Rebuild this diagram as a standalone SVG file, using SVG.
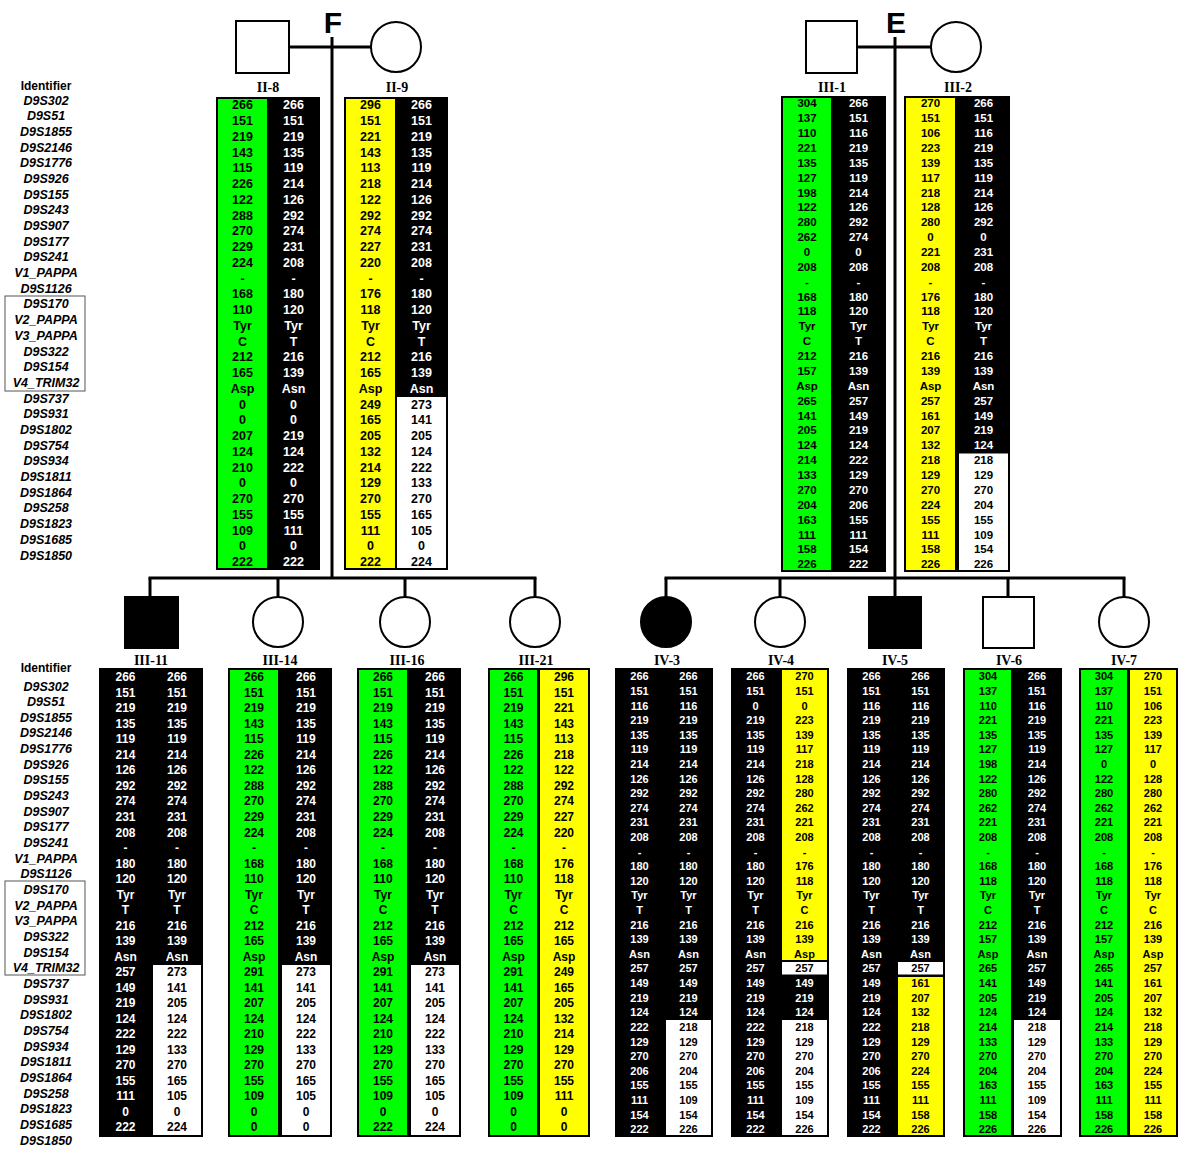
<svg xmlns="http://www.w3.org/2000/svg" width="1183" height="1156" viewBox="0 0 1183 1156">
<style>
.bg{fill:#fff}
.ln{stroke:#000;stroke-width:3;fill:none}
.sym{stroke:#000;stroke-width:2;fill:#fff}
.aff{stroke:#000;stroke-width:2;fill:#000}
.fam{font:bold 30px "Liberation Sans",Arial,sans-serif;text-anchor:middle;fill:#000}
.id{font:bold 14px "Liberation Serif","Times New Roman",serif;text-anchor:middle;fill:#000}
.mk{font:italic bold 12.5px "Liberation Sans",Arial,sans-serif;text-anchor:middle;fill:#000}
.hd{font:bold 12px "Liberation Sans",Arial,sans-serif;text-anchor:middle;fill:#000}
.lbox{fill:none;stroke:#555;stroke-width:1}
.box{fill:#000}
.gr{fill:#00ff00}
.ye{fill:#ffff00}
.wh{fill:#fff}
.c{font-family:"Liberation Sans",Arial,sans-serif;font-weight:bold;text-anchor:middle}
.s1{font-size:12.5px}.s2{font-size:11.5px}.s3{font-size:12px}.s4{font-size:11px}
.w{fill:#fff}.k{fill:#000}
</style>
<rect class="bg" x="0" y="0" width="1183" height="1156"/>

<!-- connectors: marriage, descent and sibship lines -->
<g id="connectors">
  <line class="ln" x1="290" y1="47" x2="371" y2="47" stroke-width="2"/>
  <line class="ln" x1="332" y1="37" x2="332" y2="579"/>
  <line class="ln" x1="148.5" y1="578" x2="536.5" y2="578"/>
  <line class="ln" x1="150" y1="578" x2="150" y2="597"/>
  <line class="ln" x1="278" y1="578" x2="278" y2="597"/>
  <line class="ln" x1="405" y1="578" x2="405" y2="597"/>
  <line class="ln" x1="535" y1="578" x2="535" y2="597"/>
  <line class="ln" x1="857" y1="47" x2="931" y2="47" stroke-width="2"/>
  <line class="ln" x1="895" y1="37" x2="895" y2="597"/>
  <line class="ln" x1="664.5" y1="578" x2="1125.5" y2="578"/>
  <line class="ln" x1="666" y1="578" x2="666" y2="597"/>
  <line class="ln" x1="780" y1="578" x2="780" y2="597"/>
  <line class="ln" x1="1008" y1="578" x2="1008" y2="597"/>
  <line class="ln" x1="1124" y1="578" x2="1124" y2="597"/>
</g>

<!-- family letters -->
<text class="fam" x="333" y="33">F</text>
<text class="fam" x="896" y="33">E</text>

<!-- marker names -->
<g id="markers-top">
  <text class="hd" x="46" y="90">Identifier</text>
  <rect class="lbox" x="5" y="296" width="80" height="95"/>
  <text class="mk" y="104.5"><tspan x="46">D9S302</tspan><tspan x="46" dy="15.69">D9S51</tspan><tspan x="46" dy="15.69">D9S1855</tspan><tspan x="46" dy="15.69">D9S2146</tspan><tspan x="46" dy="15.69">D9S1776</tspan><tspan x="46" dy="15.69">D9S926</tspan><tspan x="46" dy="15.69">D9S155</tspan><tspan x="46" dy="15.69">D9S243</tspan><tspan x="46" dy="15.69">D9S907</tspan><tspan x="46" dy="15.69">D9S177</tspan><tspan x="46" dy="15.69">D9S241</tspan><tspan x="46" dy="15.69">V1_PAPPA</tspan><tspan x="46" dy="15.69">D9S1126</tspan><tspan x="46" dy="15.69">D9S170</tspan><tspan x="46" dy="15.69">V2_PAPPA</tspan><tspan x="46" dy="15.69">V3_PAPPA</tspan><tspan x="46" dy="15.69">D9S322</tspan><tspan x="46" dy="15.69">D9S154</tspan><tspan x="46" dy="15.69">V4_TRIM32</tspan><tspan x="46" dy="15.69">D9S737</tspan><tspan x="46" dy="15.69">D9S931</tspan><tspan x="46" dy="15.69">D9S1802</tspan><tspan x="46" dy="15.69">D9S754</tspan><tspan x="46" dy="15.69">D9S934</tspan><tspan x="46" dy="15.69">D9S1811</tspan><tspan x="46" dy="15.69">D9S1864</tspan><tspan x="46" dy="15.69">D9S258</tspan><tspan x="46" dy="15.69">D9S1823</tspan><tspan x="46" dy="15.69">D9S1685</tspan><tspan x="46" dy="15.69">D9S1850</tspan></text>
</g>
<g id="markers-bottom">
  <text class="hd" x="46" y="672">Identifier</text>
  <rect class="lbox" x="5" y="881" width="80" height="94"/>
  <text class="mk" y="690.5"><tspan x="46">D9S302</tspan><tspan x="46" dy="15.66">D9S51</tspan><tspan x="46" dy="15.66">D9S1855</tspan><tspan x="46" dy="15.66">D9S2146</tspan><tspan x="46" dy="15.66">D9S1776</tspan><tspan x="46" dy="15.66">D9S926</tspan><tspan x="46" dy="15.66">D9S155</tspan><tspan x="46" dy="15.66">D9S243</tspan><tspan x="46" dy="15.66">D9S907</tspan><tspan x="46" dy="15.66">D9S177</tspan><tspan x="46" dy="15.66">D9S241</tspan><tspan x="46" dy="15.66">V1_PAPPA</tspan><tspan x="46" dy="15.66">D9S1126</tspan><tspan x="46" dy="15.66">D9S170</tspan><tspan x="46" dy="15.66">V2_PAPPA</tspan><tspan x="46" dy="15.66">V3_PAPPA</tspan><tspan x="46" dy="15.66">D9S322</tspan><tspan x="46" dy="15.66">D9S154</tspan><tspan x="46" dy="15.66">V4_TRIM32</tspan><tspan x="46" dy="15.66">D9S737</tspan><tspan x="46" dy="15.66">D9S931</tspan><tspan x="46" dy="15.66">D9S1802</tspan><tspan x="46" dy="15.66">D9S754</tspan><tspan x="46" dy="15.66">D9S934</tspan><tspan x="46" dy="15.66">D9S1811</tspan><tspan x="46" dy="15.66">D9S1864</tspan><tspan x="46" dy="15.66">D9S258</tspan><tspan x="46" dy="15.66">D9S1823</tspan><tspan x="46" dy="15.66">D9S1685</tspan><tspan x="46" dy="15.66">D9S1850</tspan></text>
</g>

<!-- family F, generation II -->
<g id="II-8">
  <rect class="sym" x="236" y="21" width="53" height="52"/>
  <text class="id" x="268" y="92">II-8</text>
  <rect class="box" x="216" y="97" width="104" height="473"/>
  <rect class="gr" x="218" y="99" width="49" height="469"/>
  <text class="c s1 k" y="109.3"><tspan x="242.5">266</tspan><tspan x="242.5" dy="15.75">151</tspan><tspan x="242.5" dy="15.75">219</tspan><tspan x="242.5" dy="15.75">143</tspan><tspan x="242.5" dy="15.75">115</tspan><tspan x="242.5" dy="15.75">226</tspan><tspan x="242.5" dy="15.75">122</tspan><tspan x="242.5" dy="15.75">288</tspan><tspan x="242.5" dy="15.75">270</tspan><tspan x="242.5" dy="15.75">229</tspan><tspan x="242.5" dy="15.75">224</tspan><tspan x="242.5" dy="15.75">-</tspan><tspan x="242.5" dy="15.75">168</tspan><tspan x="242.5" dy="15.75">110</tspan><tspan x="242.5" dy="15.75">Tyr</tspan><tspan x="242.5" dy="15.75">C</tspan><tspan x="242.5" dy="15.75">212</tspan><tspan x="242.5" dy="15.75">165</tspan><tspan x="242.5" dy="15.75">Asp</tspan><tspan x="242.5" dy="15.75">0</tspan><tspan x="242.5" dy="15.75">0</tspan><tspan x="242.5" dy="15.75">207</tspan><tspan x="242.5" dy="15.75">124</tspan><tspan x="242.5" dy="15.75">210</tspan><tspan x="242.5" dy="15.75">0</tspan><tspan x="242.5" dy="15.75">270</tspan><tspan x="242.5" dy="15.75">155</tspan><tspan x="242.5" dy="15.75">109</tspan><tspan x="242.5" dy="15.75">0</tspan><tspan x="242.5" dy="15.75">222</tspan></text>
  <text class="c s1 w" y="109.3"><tspan x="293.5">266</tspan><tspan x="293.5" dy="15.75">151</tspan><tspan x="293.5" dy="15.75">219</tspan><tspan x="293.5" dy="15.75">135</tspan><tspan x="293.5" dy="15.75">119</tspan><tspan x="293.5" dy="15.75">214</tspan><tspan x="293.5" dy="15.75">126</tspan><tspan x="293.5" dy="15.75">292</tspan><tspan x="293.5" dy="15.75">274</tspan><tspan x="293.5" dy="15.75">231</tspan><tspan x="293.5" dy="15.75">208</tspan><tspan x="293.5" dy="15.75">-</tspan><tspan x="293.5" dy="15.75">180</tspan><tspan x="293.5" dy="15.75">120</tspan><tspan x="293.5" dy="15.75">Tyr</tspan><tspan x="293.5" dy="15.75">T</tspan><tspan x="293.5" dy="15.75">216</tspan><tspan x="293.5" dy="15.75">139</tspan><tspan x="293.5" dy="15.75">Asn</tspan><tspan x="293.5" dy="15.75">0</tspan><tspan x="293.5" dy="15.75">0</tspan><tspan x="293.5" dy="15.75">219</tspan><tspan x="293.5" dy="15.75">124</tspan><tspan x="293.5" dy="15.75">222</tspan><tspan x="293.5" dy="15.75">0</tspan><tspan x="293.5" dy="15.75">270</tspan><tspan x="293.5" dy="15.75">155</tspan><tspan x="293.5" dy="15.75">111</tspan><tspan x="293.5" dy="15.75">0</tspan><tspan x="293.5" dy="15.75">222</tspan></text>
</g>
<g id="II-9">
  <circle class="sym" cx="396" cy="47" r="25"/>
  <text class="id" x="397" y="92">II-9</text>
  <rect class="box" x="344" y="97" width="104" height="473"/>
  <rect class="ye" x="346" y="99" width="49" height="469"/>
  <rect class="wh" x="397" y="397" width="49" height="171"/>
  <text class="c s1 k" y="109.3"><tspan x="370.5">296</tspan><tspan x="370.5" dy="15.75">151</tspan><tspan x="370.5" dy="15.75">221</tspan><tspan x="370.5" dy="15.75">143</tspan><tspan x="370.5" dy="15.75">113</tspan><tspan x="370.5" dy="15.75">218</tspan><tspan x="370.5" dy="15.75">122</tspan><tspan x="370.5" dy="15.75">292</tspan><tspan x="370.5" dy="15.75">274</tspan><tspan x="370.5" dy="15.75">227</tspan><tspan x="370.5" dy="15.75">220</tspan><tspan x="370.5" dy="15.75">-</tspan><tspan x="370.5" dy="15.75">176</tspan><tspan x="370.5" dy="15.75">118</tspan><tspan x="370.5" dy="15.75">Tyr</tspan><tspan x="370.5" dy="15.75">C</tspan><tspan x="370.5" dy="15.75">212</tspan><tspan x="370.5" dy="15.75">165</tspan><tspan x="370.5" dy="15.75">Asp</tspan><tspan x="370.5" dy="15.75">249</tspan><tspan x="370.5" dy="15.75">165</tspan><tspan x="370.5" dy="15.75">205</tspan><tspan x="370.5" dy="15.75">132</tspan><tspan x="370.5" dy="15.75">214</tspan><tspan x="370.5" dy="15.75">129</tspan><tspan x="370.5" dy="15.75">270</tspan><tspan x="370.5" dy="15.75">155</tspan><tspan x="370.5" dy="15.75">111</tspan><tspan x="370.5" dy="15.75">0</tspan><tspan x="370.5" dy="15.75">222</tspan></text>
  <text class="c s1 w" y="109.3"><tspan x="421.5">266</tspan><tspan x="421.5" dy="15.75">151</tspan><tspan x="421.5" dy="15.75">219</tspan><tspan x="421.5" dy="15.75">135</tspan><tspan x="421.5" dy="15.75">119</tspan><tspan x="421.5" dy="15.75">214</tspan><tspan x="421.5" dy="15.75">126</tspan><tspan x="421.5" dy="15.75">292</tspan><tspan x="421.5" dy="15.75">274</tspan><tspan x="421.5" dy="15.75">231</tspan><tspan x="421.5" dy="15.75">208</tspan><tspan x="421.5" dy="15.75">-</tspan><tspan x="421.5" dy="15.75">180</tspan><tspan x="421.5" dy="15.75">120</tspan><tspan x="421.5" dy="15.75">Tyr</tspan><tspan x="421.5" dy="15.75">T</tspan><tspan x="421.5" dy="15.75">216</tspan><tspan x="421.5" dy="15.75">139</tspan><tspan x="421.5" dy="15.75">Asn</tspan><tspan class="k" x="421.5" dy="15.75">273</tspan><tspan class="k" x="421.5" dy="15.75">141</tspan><tspan class="k" x="421.5" dy="15.75">205</tspan><tspan class="k" x="421.5" dy="15.75">124</tspan><tspan class="k" x="421.5" dy="15.75">222</tspan><tspan class="k" x="421.5" dy="15.75">133</tspan><tspan class="k" x="421.5" dy="15.75">270</tspan><tspan class="k" x="421.5" dy="15.75">165</tspan><tspan class="k" x="421.5" dy="15.75">105</tspan><tspan class="k" x="421.5" dy="15.75">0</tspan><tspan class="k" x="421.5" dy="15.75">224</tspan></text>
</g>

<!-- family E, generation III -->
<g id="III-1">
  <rect class="sym" x="806" y="21" width="51" height="52"/>
  <text class="id" x="832" y="92">III-1</text>
  <rect class="box" x="781" y="96" width="105" height="476"/>
  <rect class="gr" x="783" y="98" width="48" height="472"/>
  <text class="c s2 k" y="107.3"><tspan x="807">304</tspan><tspan x="807" dy="14.87">137</tspan><tspan x="807" dy="14.87">110</tspan><tspan x="807" dy="14.87">221</tspan><tspan x="807" dy="14.87">135</tspan><tspan x="807" dy="14.87">127</tspan><tspan x="807" dy="14.87">198</tspan><tspan x="807" dy="14.87">122</tspan><tspan x="807" dy="14.87">280</tspan><tspan x="807" dy="14.87">262</tspan><tspan x="807" dy="14.87">0</tspan><tspan x="807" dy="14.87">208</tspan><tspan x="807" dy="14.87">-</tspan><tspan x="807" dy="14.87">168</tspan><tspan x="807" dy="14.87">118</tspan><tspan x="807" dy="14.87">Tyr</tspan><tspan x="807" dy="14.87">C</tspan><tspan x="807" dy="14.87">212</tspan><tspan x="807" dy="14.87">157</tspan><tspan x="807" dy="14.87">Asp</tspan><tspan x="807" dy="14.87">265</tspan><tspan x="807" dy="14.87">141</tspan><tspan x="807" dy="14.87">205</tspan><tspan x="807" dy="14.87">124</tspan><tspan x="807" dy="14.87">214</tspan><tspan x="807" dy="14.87">133</tspan><tspan x="807" dy="14.87">270</tspan><tspan x="807" dy="14.87">204</tspan><tspan x="807" dy="14.87">163</tspan><tspan x="807" dy="14.87">111</tspan><tspan x="807" dy="14.87">158</tspan><tspan x="807" dy="14.87">226</tspan></text>
  <text class="c s2 w" y="107.3"><tspan x="858.5">266</tspan><tspan x="858.5" dy="14.87">151</tspan><tspan x="858.5" dy="14.87">116</tspan><tspan x="858.5" dy="14.87">219</tspan><tspan x="858.5" dy="14.87">135</tspan><tspan x="858.5" dy="14.87">119</tspan><tspan x="858.5" dy="14.87">214</tspan><tspan x="858.5" dy="14.87">126</tspan><tspan x="858.5" dy="14.87">292</tspan><tspan x="858.5" dy="14.87">274</tspan><tspan x="858.5" dy="14.87">0</tspan><tspan x="858.5" dy="14.87">208</tspan><tspan x="858.5" dy="14.87">-</tspan><tspan x="858.5" dy="14.87">180</tspan><tspan x="858.5" dy="14.87">120</tspan><tspan x="858.5" dy="14.87">Tyr</tspan><tspan x="858.5" dy="14.87">T</tspan><tspan x="858.5" dy="14.87">216</tspan><tspan x="858.5" dy="14.87">139</tspan><tspan x="858.5" dy="14.87">Asn</tspan><tspan x="858.5" dy="14.87">257</tspan><tspan x="858.5" dy="14.87">149</tspan><tspan x="858.5" dy="14.87">219</tspan><tspan x="858.5" dy="14.87">124</tspan><tspan x="858.5" dy="14.87">222</tspan><tspan x="858.5" dy="14.87">129</tspan><tspan x="858.5" dy="14.87">270</tspan><tspan x="858.5" dy="14.87">206</tspan><tspan x="858.5" dy="14.87">155</tspan><tspan x="858.5" dy="14.87">111</tspan><tspan x="858.5" dy="14.87">154</tspan><tspan x="858.5" dy="14.87">222</tspan></text>
</g>
<g id="III-2">
  <circle class="sym" cx="956" cy="47" r="25"/>
  <text class="id" x="958" y="92">III-2</text>
  <rect class="box" x="904" y="96" width="106" height="476"/>
  <rect class="ye" x="906" y="98" width="49" height="472"/>
  <rect class="wh" x="959" y="453.5" width="49" height="116.5"/>
  <text class="c s2 k" y="107.3"><tspan x="930.5">270</tspan><tspan x="930.5" dy="14.87">151</tspan><tspan x="930.5" dy="14.87">106</tspan><tspan x="930.5" dy="14.87">223</tspan><tspan x="930.5" dy="14.87">139</tspan><tspan x="930.5" dy="14.87">117</tspan><tspan x="930.5" dy="14.87">218</tspan><tspan x="930.5" dy="14.87">128</tspan><tspan x="930.5" dy="14.87">280</tspan><tspan x="930.5" dy="14.87">0</tspan><tspan x="930.5" dy="14.87">221</tspan><tspan x="930.5" dy="14.87">208</tspan><tspan x="930.5" dy="14.87">-</tspan><tspan x="930.5" dy="14.87">176</tspan><tspan x="930.5" dy="14.87">118</tspan><tspan x="930.5" dy="14.87">Tyr</tspan><tspan x="930.5" dy="14.87">C</tspan><tspan x="930.5" dy="14.87">216</tspan><tspan x="930.5" dy="14.87">139</tspan><tspan x="930.5" dy="14.87">Asp</tspan><tspan x="930.5" dy="14.87">257</tspan><tspan x="930.5" dy="14.87">161</tspan><tspan x="930.5" dy="14.87">207</tspan><tspan x="930.5" dy="14.87">132</tspan><tspan x="930.5" dy="14.87">218</tspan><tspan x="930.5" dy="14.87">129</tspan><tspan x="930.5" dy="14.87">270</tspan><tspan x="930.5" dy="14.87">224</tspan><tspan x="930.5" dy="14.87">155</tspan><tspan x="930.5" dy="14.87">111</tspan><tspan x="930.5" dy="14.87">158</tspan><tspan x="930.5" dy="14.87">226</tspan></text>
  <text class="c s2 w" y="107.3"><tspan x="983.5">266</tspan><tspan x="983.5" dy="14.87">151</tspan><tspan x="983.5" dy="14.87">116</tspan><tspan x="983.5" dy="14.87">219</tspan><tspan x="983.5" dy="14.87">135</tspan><tspan x="983.5" dy="14.87">119</tspan><tspan x="983.5" dy="14.87">214</tspan><tspan x="983.5" dy="14.87">126</tspan><tspan x="983.5" dy="14.87">292</tspan><tspan x="983.5" dy="14.87">0</tspan><tspan x="983.5" dy="14.87">231</tspan><tspan x="983.5" dy="14.87">208</tspan><tspan x="983.5" dy="14.87">-</tspan><tspan x="983.5" dy="14.87">180</tspan><tspan x="983.5" dy="14.87">120</tspan><tspan x="983.5" dy="14.87">Tyr</tspan><tspan x="983.5" dy="14.87">T</tspan><tspan x="983.5" dy="14.87">216</tspan><tspan x="983.5" dy="14.87">139</tspan><tspan x="983.5" dy="14.87">Asn</tspan><tspan x="983.5" dy="14.87">257</tspan><tspan x="983.5" dy="14.87">149</tspan><tspan x="983.5" dy="14.87">219</tspan><tspan x="983.5" dy="14.87">124</tspan><tspan class="k" x="983.5" dy="14.87">218</tspan><tspan class="k" x="983.5" dy="14.87">129</tspan><tspan class="k" x="983.5" dy="14.87">270</tspan><tspan class="k" x="983.5" dy="14.87">204</tspan><tspan class="k" x="983.5" dy="14.87">155</tspan><tspan class="k" x="983.5" dy="14.87">109</tspan><tspan class="k" x="983.5" dy="14.87">154</tspan><tspan class="k" x="983.5" dy="14.87">226</tspan></text>
</g>

<!-- family F, generation III -->
<g id="III-11">
  <rect class="aff" x="125" y="597" width="53" height="51"/>
  <text class="id" x="151" y="665">III-11</text>
  <rect class="box" x="99" y="668" width="104" height="469"/>
  <rect class="wh" x="153" y="965" width="48" height="170"/>
  <text class="c s3 w" y="681.3"><tspan x="125.5">266</tspan><tspan x="125.5" dy="15.52">151</tspan><tspan x="125.5" dy="15.52">219</tspan><tspan x="125.5" dy="15.52">135</tspan><tspan x="125.5" dy="15.52">119</tspan><tspan x="125.5" dy="15.52">214</tspan><tspan x="125.5" dy="15.52">126</tspan><tspan x="125.5" dy="15.52">292</tspan><tspan x="125.5" dy="15.52">274</tspan><tspan x="125.5" dy="15.52">231</tspan><tspan x="125.5" dy="15.52">208</tspan><tspan x="125.5" dy="15.52">-</tspan><tspan x="125.5" dy="15.52">180</tspan><tspan x="125.5" dy="15.52">120</tspan><tspan x="125.5" dy="15.52">Tyr</tspan><tspan x="125.5" dy="15.52">T</tspan><tspan x="125.5" dy="15.52">216</tspan><tspan x="125.5" dy="15.52">139</tspan><tspan x="125.5" dy="15.52">Asn</tspan><tspan x="125.5" dy="15.52">257</tspan><tspan x="125.5" dy="15.52">149</tspan><tspan x="125.5" dy="15.52">219</tspan><tspan x="125.5" dy="15.52">124</tspan><tspan x="125.5" dy="15.52">222</tspan><tspan x="125.5" dy="15.52">129</tspan><tspan x="125.5" dy="15.52">270</tspan><tspan x="125.5" dy="15.52">155</tspan><tspan x="125.5" dy="15.52">111</tspan><tspan x="125.5" dy="15.52">0</tspan><tspan x="125.5" dy="15.52">222</tspan></text>
  <text class="c s3 w" y="681.3"><tspan x="177">266</tspan><tspan x="177" dy="15.52">151</tspan><tspan x="177" dy="15.52">219</tspan><tspan x="177" dy="15.52">135</tspan><tspan x="177" dy="15.52">119</tspan><tspan x="177" dy="15.52">214</tspan><tspan x="177" dy="15.52">126</tspan><tspan x="177" dy="15.52">292</tspan><tspan x="177" dy="15.52">274</tspan><tspan x="177" dy="15.52">231</tspan><tspan x="177" dy="15.52">208</tspan><tspan x="177" dy="15.52">-</tspan><tspan x="177" dy="15.52">180</tspan><tspan x="177" dy="15.52">120</tspan><tspan x="177" dy="15.52">Tyr</tspan><tspan x="177" dy="15.52">T</tspan><tspan x="177" dy="15.52">216</tspan><tspan x="177" dy="15.52">139</tspan><tspan x="177" dy="15.52">Asn</tspan><tspan class="k" x="177" dy="15.52">273</tspan><tspan class="k" x="177" dy="15.52">141</tspan><tspan class="k" x="177" dy="15.52">205</tspan><tspan class="k" x="177" dy="15.52">124</tspan><tspan class="k" x="177" dy="15.52">222</tspan><tspan class="k" x="177" dy="15.52">133</tspan><tspan class="k" x="177" dy="15.52">270</tspan><tspan class="k" x="177" dy="15.52">165</tspan><tspan class="k" x="177" dy="15.52">105</tspan><tspan class="k" x="177" dy="15.52">0</tspan><tspan class="k" x="177" dy="15.52">224</tspan></text>
</g>
<g id="III-14">
  <circle class="sym" cx="278" cy="622" r="25"/>
  <text class="id" x="280" y="665">III-14</text>
  <rect class="box" x="228" y="668" width="104" height="469"/>
  <rect class="gr" x="230" y="670" width="48" height="465"/>
  <rect class="wh" x="282" y="965" width="48" height="170"/>
  <text class="c s3 k" y="681.3"><tspan x="254">266</tspan><tspan x="254" dy="15.52">151</tspan><tspan x="254" dy="15.52">219</tspan><tspan x="254" dy="15.52">143</tspan><tspan x="254" dy="15.52">115</tspan><tspan x="254" dy="15.52">226</tspan><tspan x="254" dy="15.52">122</tspan><tspan x="254" dy="15.52">288</tspan><tspan x="254" dy="15.52">270</tspan><tspan x="254" dy="15.52">229</tspan><tspan x="254" dy="15.52">224</tspan><tspan x="254" dy="15.52">-</tspan><tspan x="254" dy="15.52">168</tspan><tspan x="254" dy="15.52">110</tspan><tspan x="254" dy="15.52">Tyr</tspan><tspan x="254" dy="15.52">C</tspan><tspan x="254" dy="15.52">212</tspan><tspan x="254" dy="15.52">165</tspan><tspan x="254" dy="15.52">Asp</tspan><tspan x="254" dy="15.52">291</tspan><tspan x="254" dy="15.52">141</tspan><tspan x="254" dy="15.52">207</tspan><tspan x="254" dy="15.52">124</tspan><tspan x="254" dy="15.52">210</tspan><tspan x="254" dy="15.52">129</tspan><tspan x="254" dy="15.52">270</tspan><tspan x="254" dy="15.52">155</tspan><tspan x="254" dy="15.52">109</tspan><tspan x="254" dy="15.52">0</tspan><tspan x="254" dy="15.52">0</tspan></text>
  <text class="c s3 w" y="681.3"><tspan x="306">266</tspan><tspan x="306" dy="15.52">151</tspan><tspan x="306" dy="15.52">219</tspan><tspan x="306" dy="15.52">135</tspan><tspan x="306" dy="15.52">119</tspan><tspan x="306" dy="15.52">214</tspan><tspan x="306" dy="15.52">126</tspan><tspan x="306" dy="15.52">292</tspan><tspan x="306" dy="15.52">274</tspan><tspan x="306" dy="15.52">231</tspan><tspan x="306" dy="15.52">208</tspan><tspan x="306" dy="15.52">-</tspan><tspan x="306" dy="15.52">180</tspan><tspan x="306" dy="15.52">120</tspan><tspan x="306" dy="15.52">Tyr</tspan><tspan x="306" dy="15.52">T</tspan><tspan x="306" dy="15.52">216</tspan><tspan x="306" dy="15.52">139</tspan><tspan x="306" dy="15.52">Asn</tspan><tspan class="k" x="306" dy="15.52">273</tspan><tspan class="k" x="306" dy="15.52">141</tspan><tspan class="k" x="306" dy="15.52">205</tspan><tspan class="k" x="306" dy="15.52">124</tspan><tspan class="k" x="306" dy="15.52">222</tspan><tspan class="k" x="306" dy="15.52">133</tspan><tspan class="k" x="306" dy="15.52">270</tspan><tspan class="k" x="306" dy="15.52">165</tspan><tspan class="k" x="306" dy="15.52">105</tspan><tspan class="k" x="306" dy="15.52">0</tspan><tspan class="k" x="306" dy="15.52">0</tspan></text>
</g>
<g id="III-16">
  <circle class="sym" cx="405" cy="622" r="25"/>
  <text class="id" x="407" y="665">III-16</text>
  <rect class="box" x="357" y="668" width="104" height="469"/>
  <rect class="gr" x="359" y="670" width="48" height="465"/>
  <rect class="wh" x="411" y="965" width="48" height="170"/>
  <text class="c s3 k" y="681.3"><tspan x="383">266</tspan><tspan x="383" dy="15.52">151</tspan><tspan x="383" dy="15.52">219</tspan><tspan x="383" dy="15.52">143</tspan><tspan x="383" dy="15.52">115</tspan><tspan x="383" dy="15.52">226</tspan><tspan x="383" dy="15.52">122</tspan><tspan x="383" dy="15.52">288</tspan><tspan x="383" dy="15.52">270</tspan><tspan x="383" dy="15.52">229</tspan><tspan x="383" dy="15.52">224</tspan><tspan x="383" dy="15.52">-</tspan><tspan x="383" dy="15.52">168</tspan><tspan x="383" dy="15.52">110</tspan><tspan x="383" dy="15.52">Tyr</tspan><tspan x="383" dy="15.52">C</tspan><tspan x="383" dy="15.52">212</tspan><tspan x="383" dy="15.52">165</tspan><tspan x="383" dy="15.52">Asp</tspan><tspan x="383" dy="15.52">291</tspan><tspan x="383" dy="15.52">141</tspan><tspan x="383" dy="15.52">207</tspan><tspan x="383" dy="15.52">124</tspan><tspan x="383" dy="15.52">210</tspan><tspan x="383" dy="15.52">129</tspan><tspan x="383" dy="15.52">270</tspan><tspan x="383" dy="15.52">155</tspan><tspan x="383" dy="15.52">109</tspan><tspan x="383" dy="15.52">0</tspan><tspan x="383" dy="15.52">222</tspan></text>
  <text class="c s3 w" y="681.3"><tspan x="435">266</tspan><tspan x="435" dy="15.52">151</tspan><tspan x="435" dy="15.52">219</tspan><tspan x="435" dy="15.52">135</tspan><tspan x="435" dy="15.52">119</tspan><tspan x="435" dy="15.52">214</tspan><tspan x="435" dy="15.52">126</tspan><tspan x="435" dy="15.52">292</tspan><tspan x="435" dy="15.52">274</tspan><tspan x="435" dy="15.52">231</tspan><tspan x="435" dy="15.52">208</tspan><tspan x="435" dy="15.52">-</tspan><tspan x="435" dy="15.52">180</tspan><tspan x="435" dy="15.52">120</tspan><tspan x="435" dy="15.52">Tyr</tspan><tspan x="435" dy="15.52">T</tspan><tspan x="435" dy="15.52">216</tspan><tspan x="435" dy="15.52">139</tspan><tspan x="435" dy="15.52">Asn</tspan><tspan class="k" x="435" dy="15.52">273</tspan><tspan class="k" x="435" dy="15.52">141</tspan><tspan class="k" x="435" dy="15.52">205</tspan><tspan class="k" x="435" dy="15.52">124</tspan><tspan class="k" x="435" dy="15.52">222</tspan><tspan class="k" x="435" dy="15.52">133</tspan><tspan class="k" x="435" dy="15.52">270</tspan><tspan class="k" x="435" dy="15.52">165</tspan><tspan class="k" x="435" dy="15.52">105</tspan><tspan class="k" x="435" dy="15.52">0</tspan><tspan class="k" x="435" dy="15.52">224</tspan></text>
</g>
<g id="III-21">
  <circle class="sym" cx="535" cy="622" r="25"/>
  <text class="id" x="536" y="665">III-21</text>
  <rect class="box" x="488" y="668" width="102" height="469"/>
  <rect class="gr" x="490" y="670" width="47" height="465"/>
  <rect class="ye" x="540" y="670" width="48" height="465"/>
  <text class="c s3 k" y="681.3"><tspan x="513.5">266</tspan><tspan x="513.5" dy="15.52">151</tspan><tspan x="513.5" dy="15.52">219</tspan><tspan x="513.5" dy="15.52">143</tspan><tspan x="513.5" dy="15.52">115</tspan><tspan x="513.5" dy="15.52">226</tspan><tspan x="513.5" dy="15.52">122</tspan><tspan x="513.5" dy="15.52">288</tspan><tspan x="513.5" dy="15.52">270</tspan><tspan x="513.5" dy="15.52">229</tspan><tspan x="513.5" dy="15.52">224</tspan><tspan x="513.5" dy="15.52">-</tspan><tspan x="513.5" dy="15.52">168</tspan><tspan x="513.5" dy="15.52">110</tspan><tspan x="513.5" dy="15.52">Tyr</tspan><tspan x="513.5" dy="15.52">C</tspan><tspan x="513.5" dy="15.52">212</tspan><tspan x="513.5" dy="15.52">165</tspan><tspan x="513.5" dy="15.52">Asp</tspan><tspan x="513.5" dy="15.52">291</tspan><tspan x="513.5" dy="15.52">141</tspan><tspan x="513.5" dy="15.52">207</tspan><tspan x="513.5" dy="15.52">124</tspan><tspan x="513.5" dy="15.52">210</tspan><tspan x="513.5" dy="15.52">129</tspan><tspan x="513.5" dy="15.52">270</tspan><tspan x="513.5" dy="15.52">155</tspan><tspan x="513.5" dy="15.52">109</tspan><tspan x="513.5" dy="15.52">0</tspan><tspan x="513.5" dy="15.52">0</tspan></text>
  <text class="c s3 k" y="681.3"><tspan x="564">296</tspan><tspan x="564" dy="15.52">151</tspan><tspan x="564" dy="15.52">221</tspan><tspan x="564" dy="15.52">143</tspan><tspan x="564" dy="15.52">113</tspan><tspan x="564" dy="15.52">218</tspan><tspan x="564" dy="15.52">122</tspan><tspan x="564" dy="15.52">292</tspan><tspan x="564" dy="15.52">274</tspan><tspan x="564" dy="15.52">227</tspan><tspan x="564" dy="15.52">220</tspan><tspan x="564" dy="15.52">-</tspan><tspan x="564" dy="15.52">176</tspan><tspan x="564" dy="15.52">118</tspan><tspan x="564" dy="15.52">Tyr</tspan><tspan x="564" dy="15.52">C</tspan><tspan x="564" dy="15.52">212</tspan><tspan x="564" dy="15.52">165</tspan><tspan x="564" dy="15.52">Asp</tspan><tspan x="564" dy="15.52">249</tspan><tspan x="564" dy="15.52">165</tspan><tspan x="564" dy="15.52">205</tspan><tspan x="564" dy="15.52">132</tspan><tspan x="564" dy="15.52">214</tspan><tspan x="564" dy="15.52">129</tspan><tspan x="564" dy="15.52">270</tspan><tspan x="564" dy="15.52">155</tspan><tspan x="564" dy="15.52">111</tspan><tspan x="564" dy="15.52">0</tspan><tspan x="564" dy="15.52">0</tspan></text>
</g>

<!-- family E, generation IV -->
<g id="IV-3">
  <circle class="aff" cx="666" cy="622" r="25"/>
  <text class="id" x="667" y="665">IV-3</text>
  <rect class="box" x="615" y="668" width="98" height="469"/>
  <rect class="wh" x="666" y="1020" width="45" height="115"/>
  <text class="c s4 w" y="680.3"><tspan x="639.5">266</tspan><tspan x="639.5" dy="14.61">151</tspan><tspan x="639.5" dy="14.61">116</tspan><tspan x="639.5" dy="14.61">219</tspan><tspan x="639.5" dy="14.61">135</tspan><tspan x="639.5" dy="14.61">119</tspan><tspan x="639.5" dy="14.61">214</tspan><tspan x="639.5" dy="14.61">126</tspan><tspan x="639.5" dy="14.61">292</tspan><tspan x="639.5" dy="14.61">274</tspan><tspan x="639.5" dy="14.61">231</tspan><tspan x="639.5" dy="14.61">208</tspan><tspan x="639.5" dy="14.61">-</tspan><tspan x="639.5" dy="14.61">180</tspan><tspan x="639.5" dy="14.61">120</tspan><tspan x="639.5" dy="14.61">Tyr</tspan><tspan x="639.5" dy="14.61">T</tspan><tspan x="639.5" dy="14.61">216</tspan><tspan x="639.5" dy="14.61">139</tspan><tspan x="639.5" dy="14.61">Asn</tspan><tspan x="639.5" dy="14.61">257</tspan><tspan x="639.5" dy="14.61">149</tspan><tspan x="639.5" dy="14.61">219</tspan><tspan x="639.5" dy="14.61">124</tspan><tspan x="639.5" dy="14.61">222</tspan><tspan x="639.5" dy="14.61">129</tspan><tspan x="639.5" dy="14.61">270</tspan><tspan x="639.5" dy="14.61">206</tspan><tspan x="639.5" dy="14.61">155</tspan><tspan x="639.5" dy="14.61">111</tspan><tspan x="639.5" dy="14.61">154</tspan><tspan x="639.5" dy="14.61">222</tspan></text>
  <text class="c s4 w" y="680.3"><tspan x="688.5">266</tspan><tspan x="688.5" dy="14.61">151</tspan><tspan x="688.5" dy="14.61">116</tspan><tspan x="688.5" dy="14.61">219</tspan><tspan x="688.5" dy="14.61">135</tspan><tspan x="688.5" dy="14.61">119</tspan><tspan x="688.5" dy="14.61">214</tspan><tspan x="688.5" dy="14.61">126</tspan><tspan x="688.5" dy="14.61">292</tspan><tspan x="688.5" dy="14.61">274</tspan><tspan x="688.5" dy="14.61">231</tspan><tspan x="688.5" dy="14.61">208</tspan><tspan x="688.5" dy="14.61">-</tspan><tspan x="688.5" dy="14.61">180</tspan><tspan x="688.5" dy="14.61">120</tspan><tspan x="688.5" dy="14.61">Tyr</tspan><tspan x="688.5" dy="14.61">T</tspan><tspan x="688.5" dy="14.61">216</tspan><tspan x="688.5" dy="14.61">139</tspan><tspan x="688.5" dy="14.61">Asn</tspan><tspan x="688.5" dy="14.61">257</tspan><tspan x="688.5" dy="14.61">149</tspan><tspan x="688.5" dy="14.61">219</tspan><tspan x="688.5" dy="14.61">124</tspan><tspan class="k" x="688.5" dy="14.61">218</tspan><tspan class="k" x="688.5" dy="14.61">129</tspan><tspan class="k" x="688.5" dy="14.61">270</tspan><tspan class="k" x="688.5" dy="14.61">204</tspan><tspan class="k" x="688.5" dy="14.61">155</tspan><tspan class="k" x="688.5" dy="14.61">109</tspan><tspan class="k" x="688.5" dy="14.61">154</tspan><tspan class="k" x="688.5" dy="14.61">226</tspan></text>
</g>
<g id="IV-4">
  <circle class="sym" cx="780" cy="622" r="25"/>
  <text class="id" x="781" y="665">IV-4</text>
  <rect class="box" x="731" y="668" width="98" height="469"/>
  <rect class="ye" x="782" y="670" width="45" height="290"/>
  <rect class="wh" x="782" y="962" width="45" height="12.5"/>
  <rect class="wh" x="782" y="1020" width="45" height="115"/>
  <text class="c s4 w" y="680.3"><tspan x="755.5">266</tspan><tspan x="755.5" dy="14.61">151</tspan><tspan x="755.5" dy="14.61">0</tspan><tspan x="755.5" dy="14.61">219</tspan><tspan x="755.5" dy="14.61">135</tspan><tspan x="755.5" dy="14.61">119</tspan><tspan x="755.5" dy="14.61">214</tspan><tspan x="755.5" dy="14.61">126</tspan><tspan x="755.5" dy="14.61">292</tspan><tspan x="755.5" dy="14.61">274</tspan><tspan x="755.5" dy="14.61">231</tspan><tspan x="755.5" dy="14.61">208</tspan><tspan x="755.5" dy="14.61">-</tspan><tspan x="755.5" dy="14.61">180</tspan><tspan x="755.5" dy="14.61">120</tspan><tspan x="755.5" dy="14.61">Tyr</tspan><tspan x="755.5" dy="14.61">T</tspan><tspan x="755.5" dy="14.61">216</tspan><tspan x="755.5" dy="14.61">139</tspan><tspan x="755.5" dy="14.61">Asn</tspan><tspan x="755.5" dy="14.61">257</tspan><tspan x="755.5" dy="14.61">149</tspan><tspan x="755.5" dy="14.61">219</tspan><tspan x="755.5" dy="14.61">124</tspan><tspan x="755.5" dy="14.61">222</tspan><tspan x="755.5" dy="14.61">129</tspan><tspan x="755.5" dy="14.61">270</tspan><tspan x="755.5" dy="14.61">206</tspan><tspan x="755.5" dy="14.61">155</tspan><tspan x="755.5" dy="14.61">111</tspan><tspan x="755.5" dy="14.61">154</tspan><tspan x="755.5" dy="14.61">222</tspan></text>
  <text class="c s4 k" y="680.3"><tspan x="804.5">270</tspan><tspan x="804.5" dy="14.61">151</tspan><tspan x="804.5" dy="14.61">0</tspan><tspan x="804.5" dy="14.61">223</tspan><tspan x="804.5" dy="14.61">139</tspan><tspan x="804.5" dy="14.61">117</tspan><tspan x="804.5" dy="14.61">218</tspan><tspan x="804.5" dy="14.61">128</tspan><tspan x="804.5" dy="14.61">280</tspan><tspan x="804.5" dy="14.61">262</tspan><tspan x="804.5" dy="14.61">221</tspan><tspan x="804.5" dy="14.61">208</tspan><tspan x="804.5" dy="14.61">-</tspan><tspan x="804.5" dy="14.61">176</tspan><tspan x="804.5" dy="14.61">118</tspan><tspan x="804.5" dy="14.61">Tyr</tspan><tspan x="804.5" dy="14.61">C</tspan><tspan x="804.5" dy="14.61">216</tspan><tspan x="804.5" dy="14.61">139</tspan><tspan x="804.5" dy="14.61">Asp</tspan><tspan x="804.5" dy="14.61">257</tspan><tspan class="w" x="804.5" dy="14.61">149</tspan><tspan class="w" x="804.5" dy="14.61">219</tspan><tspan class="w" x="804.5" dy="14.61">124</tspan><tspan x="804.5" dy="14.61">218</tspan><tspan x="804.5" dy="14.61">129</tspan><tspan x="804.5" dy="14.61">270</tspan><tspan x="804.5" dy="14.61">204</tspan><tspan x="804.5" dy="14.61">155</tspan><tspan x="804.5" dy="14.61">109</tspan><tspan x="804.5" dy="14.61">154</tspan><tspan x="804.5" dy="14.61">226</tspan></text>
</g>
<g id="IV-5">
  <rect class="aff" x="869" y="597" width="52" height="51"/>
  <text class="id" x="895" y="665">IV-5</text>
  <rect class="box" x="847" y="668" width="98" height="469"/>
  <rect class="wh" x="898" y="962" width="45" height="12.5"/>
  <rect class="ye" x="898" y="977" width="45" height="158"/>
  <text class="c s4 w" y="680.3"><tspan x="871.5">266</tspan><tspan x="871.5" dy="14.61">151</tspan><tspan x="871.5" dy="14.61">116</tspan><tspan x="871.5" dy="14.61">219</tspan><tspan x="871.5" dy="14.61">135</tspan><tspan x="871.5" dy="14.61">119</tspan><tspan x="871.5" dy="14.61">214</tspan><tspan x="871.5" dy="14.61">126</tspan><tspan x="871.5" dy="14.61">292</tspan><tspan x="871.5" dy="14.61">274</tspan><tspan x="871.5" dy="14.61">231</tspan><tspan x="871.5" dy="14.61">208</tspan><tspan x="871.5" dy="14.61">-</tspan><tspan x="871.5" dy="14.61">180</tspan><tspan x="871.5" dy="14.61">120</tspan><tspan x="871.5" dy="14.61">Tyr</tspan><tspan x="871.5" dy="14.61">T</tspan><tspan x="871.5" dy="14.61">216</tspan><tspan x="871.5" dy="14.61">139</tspan><tspan x="871.5" dy="14.61">Asn</tspan><tspan x="871.5" dy="14.61">257</tspan><tspan x="871.5" dy="14.61">149</tspan><tspan x="871.5" dy="14.61">219</tspan><tspan x="871.5" dy="14.61">124</tspan><tspan x="871.5" dy="14.61">222</tspan><tspan x="871.5" dy="14.61">129</tspan><tspan x="871.5" dy="14.61">270</tspan><tspan x="871.5" dy="14.61">206</tspan><tspan x="871.5" dy="14.61">155</tspan><tspan x="871.5" dy="14.61">111</tspan><tspan x="871.5" dy="14.61">154</tspan><tspan x="871.5" dy="14.61">222</tspan></text>
  <text class="c s4 w" y="680.3"><tspan x="920.5">266</tspan><tspan x="920.5" dy="14.61">151</tspan><tspan x="920.5" dy="14.61">116</tspan><tspan x="920.5" dy="14.61">219</tspan><tspan x="920.5" dy="14.61">135</tspan><tspan x="920.5" dy="14.61">119</tspan><tspan x="920.5" dy="14.61">214</tspan><tspan x="920.5" dy="14.61">126</tspan><tspan x="920.5" dy="14.61">292</tspan><tspan x="920.5" dy="14.61">274</tspan><tspan x="920.5" dy="14.61">231</tspan><tspan x="920.5" dy="14.61">208</tspan><tspan x="920.5" dy="14.61">-</tspan><tspan x="920.5" dy="14.61">180</tspan><tspan x="920.5" dy="14.61">120</tspan><tspan x="920.5" dy="14.61">Tyr</tspan><tspan x="920.5" dy="14.61">T</tspan><tspan x="920.5" dy="14.61">216</tspan><tspan x="920.5" dy="14.61">139</tspan><tspan x="920.5" dy="14.61">Asn</tspan><tspan class="k" x="920.5" dy="14.61">257</tspan><tspan class="k" x="920.5" dy="14.61">161</tspan><tspan class="k" x="920.5" dy="14.61">207</tspan><tspan class="k" x="920.5" dy="14.61">132</tspan><tspan class="k" x="920.5" dy="14.61">218</tspan><tspan class="k" x="920.5" dy="14.61">129</tspan><tspan class="k" x="920.5" dy="14.61">270</tspan><tspan class="k" x="920.5" dy="14.61">224</tspan><tspan class="k" x="920.5" dy="14.61">155</tspan><tspan class="k" x="920.5" dy="14.61">111</tspan><tspan class="k" x="920.5" dy="14.61">158</tspan><tspan class="k" x="920.5" dy="14.61">226</tspan></text>
</g>
<g id="IV-6">
  <rect class="sym" x="983" y="597" width="51" height="51"/>
  <text class="id" x="1009" y="665">IV-6</text>
  <rect class="box" x="963" y="668" width="99" height="469"/>
  <rect class="gr" x="965" y="670" width="46" height="465"/>
  <rect class="wh" x="1014" y="1020" width="46" height="115"/>
  <text class="c s4 k" y="680.3"><tspan x="988">304</tspan><tspan x="988" dy="14.61">137</tspan><tspan x="988" dy="14.61">110</tspan><tspan x="988" dy="14.61">221</tspan><tspan x="988" dy="14.61">135</tspan><tspan x="988" dy="14.61">127</tspan><tspan x="988" dy="14.61">198</tspan><tspan x="988" dy="14.61">122</tspan><tspan x="988" dy="14.61">280</tspan><tspan x="988" dy="14.61">262</tspan><tspan x="988" dy="14.61">221</tspan><tspan x="988" dy="14.61">208</tspan><tspan x="988" dy="14.61">-</tspan><tspan x="988" dy="14.61">168</tspan><tspan x="988" dy="14.61">118</tspan><tspan x="988" dy="14.61">Tyr</tspan><tspan x="988" dy="14.61">C</tspan><tspan x="988" dy="14.61">212</tspan><tspan x="988" dy="14.61">157</tspan><tspan x="988" dy="14.61">Asp</tspan><tspan x="988" dy="14.61">265</tspan><tspan x="988" dy="14.61">141</tspan><tspan x="988" dy="14.61">205</tspan><tspan x="988" dy="14.61">124</tspan><tspan x="988" dy="14.61">214</tspan><tspan x="988" dy="14.61">133</tspan><tspan x="988" dy="14.61">270</tspan><tspan x="988" dy="14.61">204</tspan><tspan x="988" dy="14.61">163</tspan><tspan x="988" dy="14.61">111</tspan><tspan x="988" dy="14.61">158</tspan><tspan x="988" dy="14.61">226</tspan></text>
  <text class="c s4 w" y="680.3"><tspan x="1037">266</tspan><tspan x="1037" dy="14.61">151</tspan><tspan x="1037" dy="14.61">116</tspan><tspan x="1037" dy="14.61">219</tspan><tspan x="1037" dy="14.61">135</tspan><tspan x="1037" dy="14.61">119</tspan><tspan x="1037" dy="14.61">214</tspan><tspan x="1037" dy="14.61">126</tspan><tspan x="1037" dy="14.61">292</tspan><tspan x="1037" dy="14.61">274</tspan><tspan x="1037" dy="14.61">231</tspan><tspan x="1037" dy="14.61">208</tspan><tspan x="1037" dy="14.61">-</tspan><tspan x="1037" dy="14.61">180</tspan><tspan x="1037" dy="14.61">120</tspan><tspan x="1037" dy="14.61">Tyr</tspan><tspan x="1037" dy="14.61">T</tspan><tspan x="1037" dy="14.61">216</tspan><tspan x="1037" dy="14.61">139</tspan><tspan x="1037" dy="14.61">Asn</tspan><tspan x="1037" dy="14.61">257</tspan><tspan x="1037" dy="14.61">149</tspan><tspan x="1037" dy="14.61">219</tspan><tspan x="1037" dy="14.61">124</tspan><tspan class="k" x="1037" dy="14.61">218</tspan><tspan class="k" x="1037" dy="14.61">129</tspan><tspan class="k" x="1037" dy="14.61">270</tspan><tspan class="k" x="1037" dy="14.61">204</tspan><tspan class="k" x="1037" dy="14.61">155</tspan><tspan class="k" x="1037" dy="14.61">109</tspan><tspan class="k" x="1037" dy="14.61">154</tspan><tspan class="k" x="1037" dy="14.61">226</tspan></text>
</g>
<g id="IV-7">
  <circle class="sym" cx="1124" cy="622" r="25"/>
  <text class="id" x="1124" y="665">IV-7</text>
  <rect class="box" x="1079" y="668" width="99" height="469"/>
  <rect class="gr" x="1081" y="670" width="46" height="465"/>
  <rect class="ye" x="1130" y="670" width="46" height="465"/>
  <text class="c s4 k" y="680.3"><tspan x="1104">304</tspan><tspan x="1104" dy="14.61">137</tspan><tspan x="1104" dy="14.61">110</tspan><tspan x="1104" dy="14.61">221</tspan><tspan x="1104" dy="14.61">135</tspan><tspan x="1104" dy="14.61">127</tspan><tspan x="1104" dy="14.61">0</tspan><tspan x="1104" dy="14.61">122</tspan><tspan x="1104" dy="14.61">280</tspan><tspan x="1104" dy="14.61">262</tspan><tspan x="1104" dy="14.61">221</tspan><tspan x="1104" dy="14.61">208</tspan><tspan x="1104" dy="14.61">-</tspan><tspan x="1104" dy="14.61">168</tspan><tspan x="1104" dy="14.61">118</tspan><tspan x="1104" dy="14.61">Tyr</tspan><tspan x="1104" dy="14.61">C</tspan><tspan x="1104" dy="14.61">212</tspan><tspan x="1104" dy="14.61">157</tspan><tspan x="1104" dy="14.61">Asp</tspan><tspan x="1104" dy="14.61">265</tspan><tspan x="1104" dy="14.61">141</tspan><tspan x="1104" dy="14.61">205</tspan><tspan x="1104" dy="14.61">124</tspan><tspan x="1104" dy="14.61">214</tspan><tspan x="1104" dy="14.61">133</tspan><tspan x="1104" dy="14.61">270</tspan><tspan x="1104" dy="14.61">204</tspan><tspan x="1104" dy="14.61">163</tspan><tspan x="1104" dy="14.61">111</tspan><tspan x="1104" dy="14.61">158</tspan><tspan x="1104" dy="14.61">226</tspan></text>
  <text class="c s4 k" y="680.3"><tspan x="1153">270</tspan><tspan x="1153" dy="14.61">151</tspan><tspan x="1153" dy="14.61">106</tspan><tspan x="1153" dy="14.61">223</tspan><tspan x="1153" dy="14.61">139</tspan><tspan x="1153" dy="14.61">117</tspan><tspan x="1153" dy="14.61">0</tspan><tspan x="1153" dy="14.61">128</tspan><tspan x="1153" dy="14.61">280</tspan><tspan x="1153" dy="14.61">262</tspan><tspan x="1153" dy="14.61">221</tspan><tspan x="1153" dy="14.61">208</tspan><tspan x="1153" dy="14.61">-</tspan><tspan x="1153" dy="14.61">176</tspan><tspan x="1153" dy="14.61">118</tspan><tspan x="1153" dy="14.61">Tyr</tspan><tspan x="1153" dy="14.61">C</tspan><tspan x="1153" dy="14.61">216</tspan><tspan x="1153" dy="14.61">139</tspan><tspan x="1153" dy="14.61">Asp</tspan><tspan x="1153" dy="14.61">257</tspan><tspan x="1153" dy="14.61">161</tspan><tspan x="1153" dy="14.61">207</tspan><tspan x="1153" dy="14.61">132</tspan><tspan x="1153" dy="14.61">218</tspan><tspan x="1153" dy="14.61">129</tspan><tspan x="1153" dy="14.61">270</tspan><tspan x="1153" dy="14.61">224</tspan><tspan x="1153" dy="14.61">155</tspan><tspan x="1153" dy="14.61">111</tspan><tspan x="1153" dy="14.61">158</tspan><tspan x="1153" dy="14.61">226</tspan></text>
</g>
</svg>
